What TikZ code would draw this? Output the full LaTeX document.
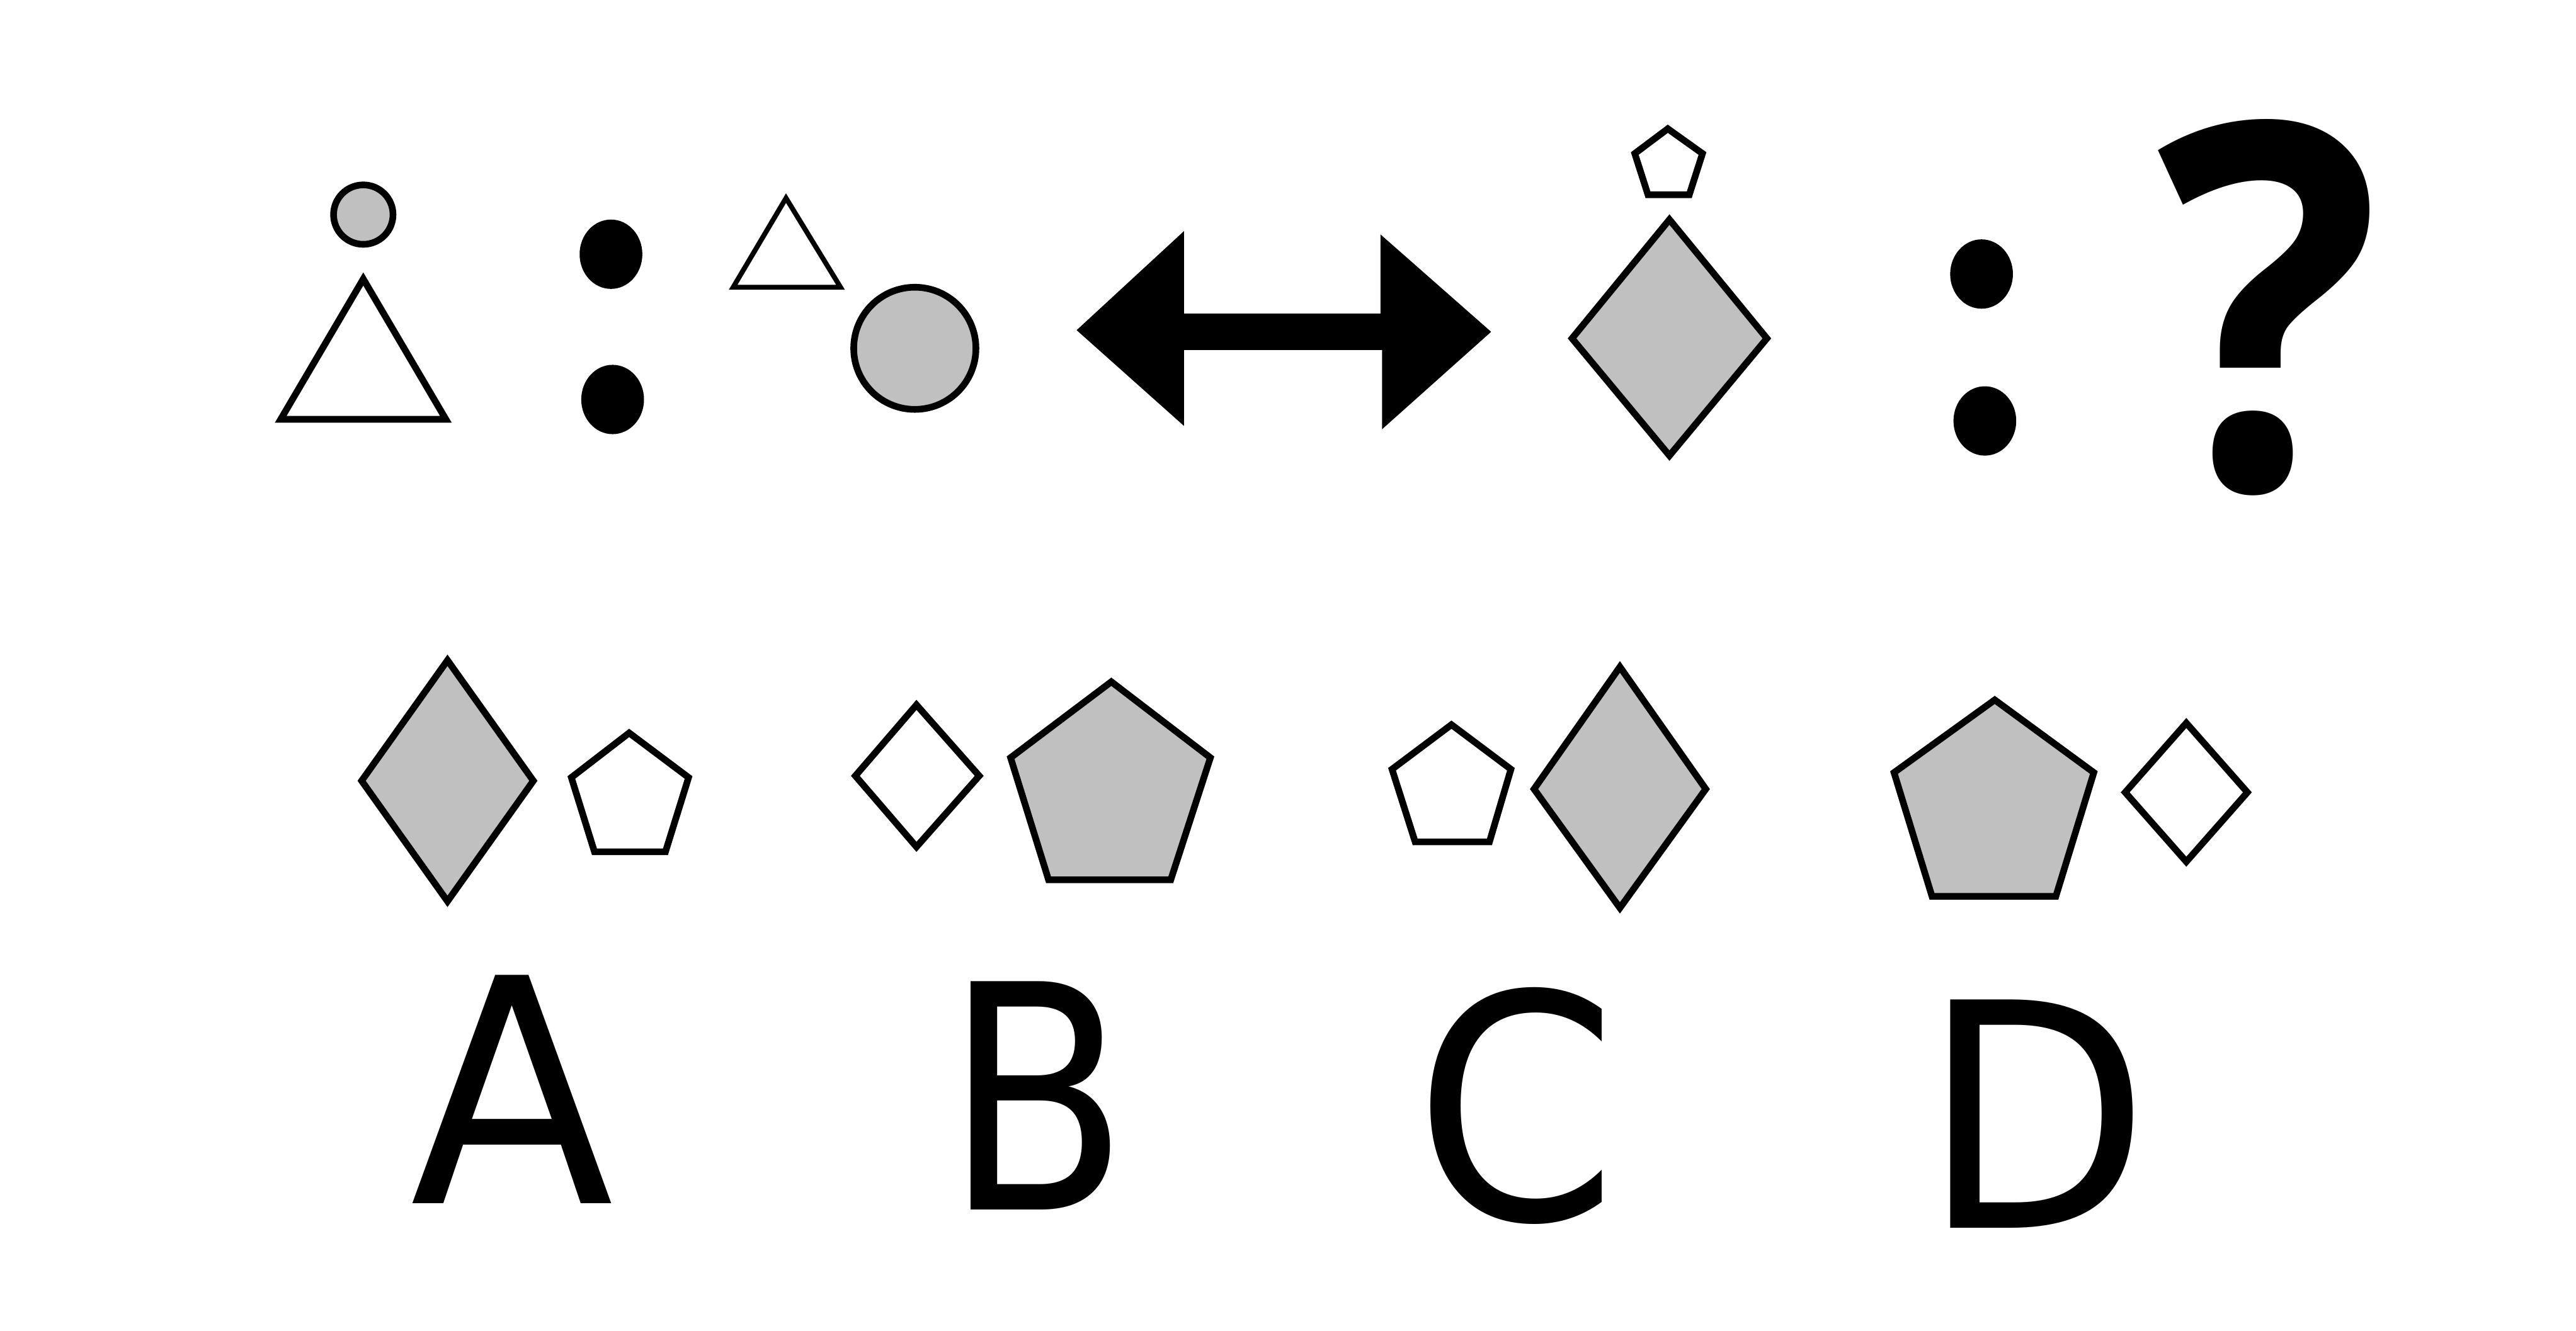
\documentclass[tikz,border=0pt]{standalone}
\usepackage{graphicx}
\usepackage{fontspec}
\newfontfamily\labelfont{DejaVu Sans}
\newfontfamily\qfont{Open Sans}
\definecolor{shapegrey}{HTML}{C0C0C0}
\begin{document}
\begin{tikzpicture}[x=0.02cm,y=-0.02cm,
  shp/.style={draw=black, line width=2.3pt, line join=miter},
  thinshp/.style={draw=black, line width=1.7pt, line join=miter},
  greyfill/.style={fill=shapegrey},
  whitefill/.style={fill=white},
  dot/.style={fill=black},
  letter/.style={anchor=base, inner sep=0pt, font=\labelfont\fontsize{108}{120}\selectfont},
  qmark/.style={anchor=base, inner sep=0pt, font=\qfont\bfseries\fontsize{176}{190}\selectfont}]
\fill[white] (0,0) rectangle (1560,806.3);
\useasboundingbox (0,0) rectangle (1560,806.3);

% ---- top row ----
% small grey circle over triangle
\draw[shp,greyfill] (220,130) circle (18);
\draw[shp,whitefill] (220,169) -- (270,254) -- (170,254) -- cycle;
% colon 1
\fill[dot] (370,154) ellipse (19 and 21);
\fill[dot] (371,242) ellipse (19 and 21);
% small triangle and grey circle
\draw[thinshp,whitefill] (476,120) -- (509,174) -- (444,174) -- cycle;
\draw[shp,greyfill] (554,211) circle (37);
% double arrow
\fill[black] (652,200) -- (717,140) -- (717,190) -- (836,190) -- (836,142) -- (903,201)
  -- (837,260) -- (837,212) -- (717,212) -- (717,258) -- cycle;
% small pentagon over grey diamond
\draw[shp,whitefill] (1010,78) -- (1031,93) -- (1023,118) -- (998,118) -- (990,93) -- cycle;
\draw[shp,greyfill] (1011,133) -- (1070,205) -- (1011,276) -- (952,205) -- cycle;
% colon 2
\fill[dot] (1200,166) ellipse (19 and 21);
\fill[dot] (1202,255) ellipse (19 and 21);
% question mark
\node[qmark] (q) at (1374,296) {\scalebox{0.92}[1]{?}};

% ---- bottom row ----
% A
\draw[shp,greyfill] (271,400) -- (323,473) -- (271,546) -- (219,473) -- cycle;
\draw[shp,whitefill] (381,444) -- (417,471) -- (403,516) -- (360,516) -- (346,471) -- cycle;
% B
\draw[shp,whitefill] (555,427) -- (593,470) -- (555,513) -- (518,470) -- cycle;
\draw[shp,greyfill] (673,413) -- (733,459) -- (709,533) -- (635,533) -- (612,459) -- cycle;
% C
\draw[shp,whitefill] (879,439) -- (915,466) -- (902,510) -- (857,510) -- (843,466) -- cycle;
\draw[shp,greyfill] (981,404) -- (1033,478) -- (981,550) -- (929,478) -- cycle;
% D
\draw[shp,greyfill] (1208,424) -- (1268,468) -- (1245,543) -- (1170,543) -- (1147,468) -- cycle;
\draw[shp,whitefill] (1324,438) -- (1361,480) -- (1324,522) -- (1287,480) -- cycle;

% labels
\node[letter] (la) at (310,729) {\scalebox{0.95}[1]{A}};
\node[letter] (lb) at (628,733) {\scalebox{0.86}[1]{B}};
\node[letter] (lc) at (918,739) {\scalebox{0.93}[1]{C}};
\node[letter] (ld) at (1233,744) {\scalebox{0.95}[1]{D}};
\end{tikzpicture}
\end{document}
